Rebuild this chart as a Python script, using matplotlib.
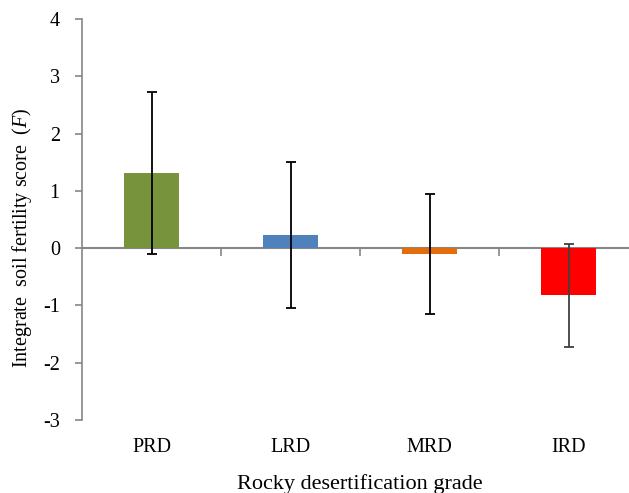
import numpy as np
import matplotlib
matplotlib.use('Agg')
import matplotlib.pyplot as plt

plt.rcParams['font.family'] = 'Liberation Serif'
plt.rcParams['mathtext.fontset'] = 'custom'
plt.rcParams['mathtext.it'] = 'Liberation Serif:italic'
plt.rcParams['mathtext.rm'] = 'Liberation Serif'
plt.rcParams['axes.unicode_minus'] = False

grades = ['PRD', 'LRD', 'MRD', 'IRD']
scores = [1.31, 0.23, -0.10, -0.82]
errors = [1.41, 1.27, 1.05, 0.90]
bar_colors = ['#77933C', '#4F81BD', '#E46C0A', '#FF0000']
err_colors = ['black', 'black', 'black', '#404040']

axis_gray = '#868686'

fig = plt.figure(figsize=(6.29, 4.93), dpi=100)
ax = fig.add_axes([82 / 629, 1 - 420 / 493, 556 / 629, 401 / 493])

x = np.arange(len(grades))
ax.bar(x, scores, width=0.4, color=bar_colors, zorder=2)
for xi, s, e, c in zip(x, scores, errors, err_colors):
    ax.errorbar(xi, s, yerr=e, fmt='none', ecolor=c, elinewidth=1.3,
                capsize=3.3, capthick=1.3, zorder=3)

ax.set_xlim(-0.5, 3.5)
ax.set_ylim(-3, 4)
ax.set_yticks(range(-3, 5))
ax.set_xticks(x)
ax.set_xticklabels(grades)
ax.tick_params(axis='x', length=0, pad=13, labelsize=14.5)
ax.tick_params(axis='y', length=5, color=axis_gray, width=1.2, labelsize=14.5, pad=11)

for side in ['top', 'right', 'bottom']:
    ax.spines[side].set_visible(False)
ax.spines['left'].set_color(axis_gray)
ax.spines['left'].set_linewidth(1.2)

# zero line with category boundary ticks
zero_ax = ax.secondary_xaxis(3 / 7)
zero_ax.set_xticks([0.5, 1.5, 2.5])
zero_ax.set_xticklabels([])
zero_ax.tick_params(length=6, color=axis_gray, width=1.2)
zero_ax.spines['bottom'].set_color(axis_gray)
zero_ax.spines['bottom'].set_linewidth(1.5)

ax.set_xlabel('Rocky desertification grade', fontsize=16, labelpad=12)
ax.set_ylabel('Integrate  soil fertility score  ($\\it{F}$)', fontsize=14.5, labelpad=6.5)
ax.yaxis.label.set_y(0.455)

fig.savefig('out.png', dpi=100)
